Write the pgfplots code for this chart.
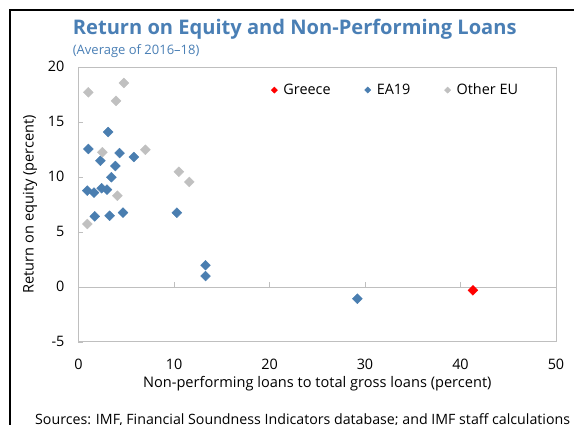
\documentclass[border=0pt]{standalone}
\usepackage{fontspec}
\setmainfont{Open Sans}
\usepackage{pgfplots}
\pgfplotsset{compat=1.18}
\definecolor{ttl}{HTML}{4A7FB5}
\definecolor{ea}{HTML}{4A7EB0}
\definecolor{oeu}{HTML}{C0C0C0}
\definecolor{frm}{HTML}{BFBFBF}

\pgfplotstableread{
x y
41.3 -0.33
}\greece
\pgfplotstableread{
x y
3.1 14.06
1.03 12.52
4.3 12.15
2.3 11.45
5.8 11.79
3.86 10.97
3.44 9.95
0.92 8.73
1.62 8.55
2.43 8.95
2.98 8.82
1.7 6.40
3.26 6.45
4.66 6.73
10.3 6.73
13.3 1.95
13.3 0.97
29.2 -1.09
}\eanineteen
\pgfplotstableread{
x y
1.03 17.67
4.76 18.52
3.93 16.90
2.5 12.22
7.0 12.45
10.5 10.45
11.6 9.52
4.07 8.27
0.92 5.70
}\othereu

\begin{document}
\begin{tikzpicture}
\path[use as bounding box] (0pt,0pt) rectangle (574pt,-425pt);
\draw[line width=2pt] (10pt,-426pt) -- (10pt,-10pt) -- (576pt,-10pt);
\node[anchor=base west, inner sep=0, text=ttl, font=\bfseries\fontsize{20.1}{24}\selectfont] at (72.7pt,-34.3pt) {Return on Equity and Non-Performing Loans};
\node[anchor=base west, inner sep=0, text=ttl, font=\fontsize{13}{16}\selectfont] at (72.7pt,-54.5pt) {(Average of 2016–18)};
\node[anchor=base west, inner sep=0, font=\fontsize{14.2}{17}\selectfont] at (35pt,-424.3pt) {Sources: IMF, Financial Soundness Indicators database; and IMF staff calculations};
\begin{axis}[
  at={(78.5pt,-341.7pt)}, anchor=south west,
  scale only axis, width=477.5pt, height=275pt,
  xmin=0, xmax=50, ymin=-5, ymax=20,
  xtick={0,10,20,30,40,50}, ytick={-5,0,5,10,15,20},
  xticklabels={0,10,20,30,40,50},
  yticklabels={-5,0,5,10,15,20},
  axis line style={frm},
  tick align=inside, ytick pos=left, xtick pos=bottom,
  major tick length=5pt,
  x tick style={draw=none},
  y tick style={frm},
  tick label style={font=\fontsize{14.4}{16}\selectfont},
  xticklabel style={yshift=-13.6pt},
  yticklabel style={xshift=-10.5pt},
  xlabel={Non-performing loans to total gross loans (percent)},
  ylabel={Return on equity (percent)},
  label style={font=\fontsize{14.6}{17}\selectfont},
  xlabel style={at={(axis description cs:0.5,-0.154)}, anchor=center},
  ylabel style={at={(axis description cs:-0.1016,0.5)}, anchor=center},
  legend columns=3,
  legend style={draw=none, fill=none, at={(axis description cs:0.397,0.915)}, anchor=west,
    font=\fontsize{14.4}{16}\selectfont,
    /tikz/every odd column/.append style={column sep=4pt},
    /tikz/every even column/.append style={column sep=32pt}},
  legend image code/.code={\draw[#1, mark size=2.2pt] plot coordinates {(0pt,0pt)};},
  clip=false,
]
\draw[frm] (axis cs:0,0) -- (axis cs:50,0);
\pgfplotsinvokeforeach{10,20,30,40}{\draw[frm] (axis cs:#1,0) -- ++(0pt,5pt);}
\addplot[only marks, mark=square*, mark size=3.5pt, mark options={rotate=45, draw=red, fill=red}] table[x=x,y=y] {\greece};
\addlegendentry{Greece}
\addplot[only marks, mark=square*, mark size=3.5pt, mark options={rotate=45, draw=ea, fill=ea}] table[x=x,y=y] {\eanineteen};
\addlegendentry{EA19}
\addplot[only marks, mark=square*, mark size=3.5pt, mark options={rotate=45, draw=oeu, fill=oeu}] table[x=x,y=y] {\othereu};
\addlegendentry{Other EU}
\end{axis}
\end{tikzpicture}
\end{document}
